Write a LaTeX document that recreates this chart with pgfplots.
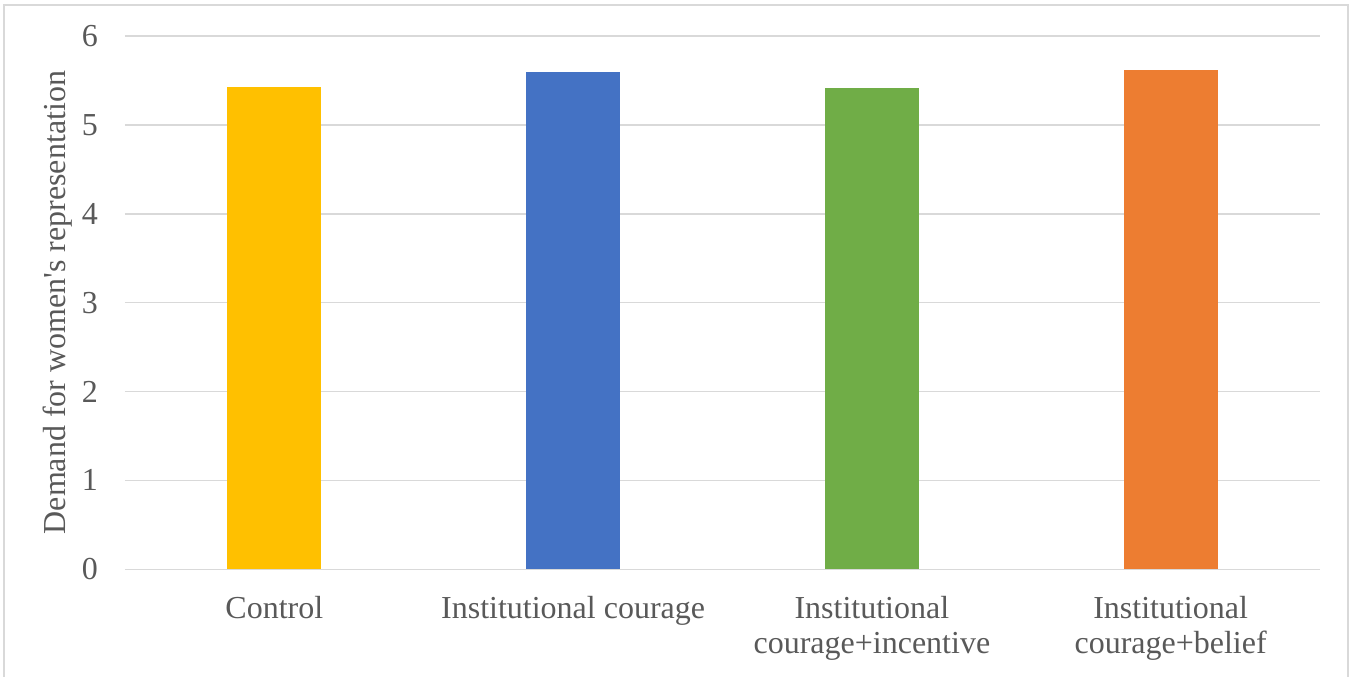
\documentclass[border=0pt]{standalone}
\usepackage{pgfplots}
\pgfplotsset{compat=1.18}
\usepackage{fontspec}
\setmainfont{Liberation Serif}
\definecolor{txtgray}{HTML}{595959}
\definecolor{gridgray}{HTML}{D9D9D9}
\definecolor{cYellow}{HTML}{FFC000}
\definecolor{cBlue}{HTML}{4472C4}
\definecolor{cGreen}{HTML}{70AD47}
\definecolor{cOrange}{HTML}{ED7D31}
\begin{document}
\begin{tikzpicture}
% page frame
\useasboundingbox (-62.5pt,-53.35pt) rectangle (615pt,284.65pt);
\draw[gridgray, line width=0.8pt] (-60.5pt,-60pt) -- (-60.5pt,282.15pt) -- (611.5pt,282.15pt) -- (611.5pt,-60pt);
\begin{axis}[
  at={(0,0)}, anchor=south west,
  scale only axis,
  width=597.5pt, height=266.7pt,
  xmin=-0.5, xmax=3.5,
  ymin=0, ymax=6,
  ytick={0,1,2,3,4,5,6},
  xtick={0,1,2,3},
  xticklabels={Control, Institutional courage, {Institutional\\courage+incentive}, {Institutional\\courage+belief}},
  axis line style={draw=none},
  major tick length=0pt,
  ymajorgrids,
  grid style={gridgray, line width=0.8pt},
  font=\fontsize{16}{17.6}\selectfont,
  tick label style={text=txtgray},
  /pgf/number format/assume math mode=true,
  yticklabel style={anchor=east, xshift=-10pt},
  xticklabel style={align=center, anchor=north, yshift=-10pt, text depth=0pt},
  ylabel={Demand for women\textquotesingle s representation},
  ylabel style={at={(axis description cs:-0.0565,0.5)}, anchor=center, rotate=0, text=txtgray},
  ybar, bar width=47pt, bar shift=0pt,
  clip=false,
]
\addplot[fill=cYellow, draw=none] coordinates {(0,5.42)};
\addplot[fill=cBlue, draw=none] coordinates {(1,5.59)};
\addplot[fill=cGreen, draw=none] coordinates {(2,5.41)};
\addplot[fill=cOrange, draw=none] coordinates {(3,5.62)};
\end{axis}
\end{tikzpicture}
\end{document}
